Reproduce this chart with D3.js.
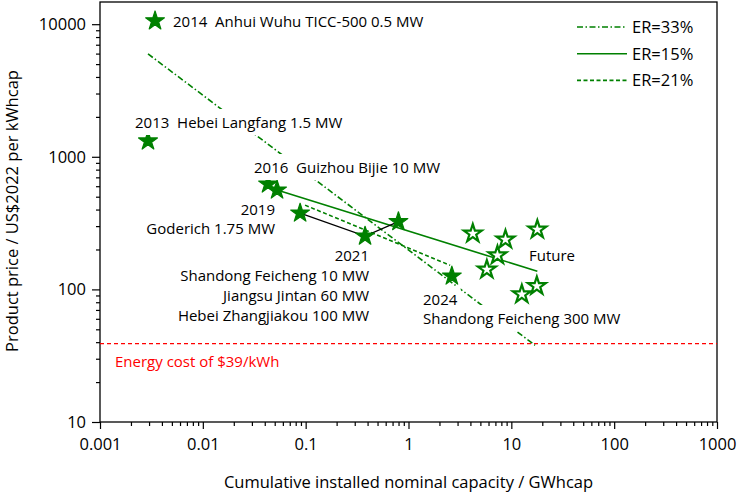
<!DOCTYPE html>
<html>
<head>
<meta charset="utf-8">
<script src="https://cdn.jsdelivr.net/npm/d3@7"></script>
<style>
  body { margin: 0; background: #fff; }
  text { font-family: "Open Sans", sans-serif; fill: #000; }
</style>
</head>
<body>
<svg id="chart" width="738" height="493"></svg>
<script>
const green = '#008000'
const red = '#ff0000'

// built projects (filled stars)
const projectYear = ['2014', '2013', '2016', '2016', '2019', '2021', '2021', '2024']
const projectCap = [0.00343, 0.00293, 0.0431, 0.0527, 0.0883, 0.378, 0.798, 2.64]
const projectPrice = [10590, 1315, 623, 561, 376, 252, 324, 126]

// future projects (hollow stars)
const futureCap = [4.22, 8.77, 17.9, 7.33, 5.78, 17.7, 12.65]
const futurePrice = [264, 238, 283, 181, 141, 106, 92]

// experience-rate trend lines, start and end points
const trendName = ['ER=33%', 'ER=15%', 'ER=21%']
const trendCap = [[0.00293, 17.0], [0.0527, 17.9], [0.0986, 2.54]]
const trendPrice = [[5970, 37.9], [561, 137], [432, 152]]
const trendDash = ['6,2.5,1.5,2.5', null, '4,2.5']

// black path 2019 -> 2021 -> 2021
const pathIdx = [4, 5, 6]

const energyCost = 39

const xTicks = [0.001, 0.01, 0.1, 1, 10, 100, 1000]
const yTicks = [10, 100, 1000, 10000]

const margin = {top: 2, right: 21, bottom: 71, left: 100}
const W = 738, H = 493
const w = W - margin.left - margin.right
const h = H - margin.top - margin.bottom

const svg = d3.select('#chart')
const g = svg.append('g').attr('transform', `translate(${margin.left},${margin.top})`)

const x = d3.scaleLog().domain([0.001, 1000]).range([0, w])
const y = d3.scaleLog().domain([10, 14700]).range([h, 0])

const minor = ticks => ticks.slice(0, -1).flatMap(t => d3.range(2, 10).map(k => t * k))

// axes
g.append('g')
  .attr('transform', `translate(0,${h})`)
  .call(d3.axisBottom(x).tickValues(minor(xTicks)).tickSize(4).tickFormat(''))
g.append('g')
  .attr('transform', `translate(0,${h})`)
  .call(d3.axisBottom(x).tickValues(xTicks).tickSize(7).tickPadding(9).tickFormat(d => String(d)))
g.append('g')
  .call(d3.axisLeft(y).tickValues(minor(yTicks)).tickSize(4).tickFormat(''))
g.append('g')
  .call(d3.axisLeft(y).tickValues(yTicks).tickSize(8).tickPadding(6).tickFormat(d => String(d)))

g.selectAll('.domain').remove()
g.selectAll('.tick line').attr('stroke', '#000').attr('stroke-width', 1.2)
g.selectAll('.tick text').style('font-size', '16.5px').style('font-family', '"Open Sans", sans-serif').attr('fill', '#000')

g.append('rect')
  .attr('width', w).attr('height', h)
  .attr('fill', 'none').attr('stroke', '#000').attr('stroke-width', 1.3)

// axis titles
svg.append('text')
  .attr('x', margin.left + w / 2).attr('y', 488)
  .attr('text-anchor', 'middle')
  .style('font-size', '16.5px')
  .text('Cumulative installed nominal capacity / GWhcap')
svg.append('text')
  .attr('transform', 'translate(18,211) rotate(-90)')
  .attr('text-anchor', 'middle')
  .style('font-size', '16.5px')
  .text('Product price / US$2022 per kWhcap')

// energy cost line
g.append('line')
  .attr('x1', 0).attr('x2', w)
  .attr('y1', y(energyCost)).attr('y2', y(energyCost))
  .attr('stroke', red).attr('stroke-width', 1.3).attr('stroke-dasharray', '4,3')
g.append('text')
  .attr('x', 15).attr('y', y(energyCost) + 23)
  .style('font-size', '15px').style('fill', red)
  .text('Energy cost of $39/kWh')

// trend lines
const line = d3.line().x(d => x(d[0])).y(d => y(d[1]))
trendName.forEach((name, i) => {
  g.append('path')
    .datum(d3.zip(trendCap[i], trendPrice[i]))
    .attr('d', line)
    .attr('fill', 'none')
    .attr('stroke', green)
    .attr('stroke-width', 1.6)
    .attr('stroke-dasharray', trendDash[i])
})

// annotations (white boxes hide the lines running behind them)
const notes = [
  {lines: ['2014  Anhui Wuhu TICC-500 0.5 MW'], x: 173, y: 27, anchor: 'start'},
  {lines: ['2013  Hebei Langfang 1.5 MW'], x: 135, y: 128, anchor: 'start', bg: true},
  {lines: ['2016  Guizhou Bijie 10 MW'], x: 254, y: 173, anchor: 'start', bg: true},
  {lines: ['2019', 'Goderich 1.75 MW'], x: 275, y: 215, anchor: 'end', lh: 19},
  {lines: ['2021', 'Shandong Feicheng 10 MW', 'Jiangsu Jintan 60 MW', 'Hebei Zhangjiakou 100 MW'], x: 369, y: 261, anchor: 'end', lh: 20},
  {lines: ['2024', 'Shandong Feicheng 300 MW'], x: 423, y: 305, anchor: 'start', lh: 19, bg: true},
  {lines: ['Future'], x: 529, y: 261, anchor: 'start'}
]
const noteLayer = svg.append('g')
notes.forEach(n => {
  n.lines.forEach((s, k) => {
    const t = noteLayer.append('text')
      .attr('x', n.x).attr('y', n.y + k * (n.lh || 0))
      .attr('text-anchor', n.anchor)
      .style('font-size', '15px')
      .style('white-space', 'pre')
      .text(s)
    if (n.bg) {
      const b = t.node().getBBox()
      noteLayer.insert('rect', () => t.node())
        .attr('x', b.x - 3).attr('y', b.y - 3)
        .attr('width', b.width + 6).attr('height', b.height + 6)
        .attr('fill', '#fff')
    }
  })
})

// black path
g.append('path')
  .datum(pathIdx.map(i => [projectCap[i], projectPrice[i]]))
  .attr('d', line)
  .attr('fill', 'none')
  .attr('stroke', '#000')
  .attr('stroke-width', 1.3)

// stars
const star = d3.symbol(d3.symbolStar, 110)
g.selectAll('.proj')
  .data(d3.zip(projectCap, projectPrice))
  .join('path')
  .attr('class', 'proj')
  .attr('transform', d => `translate(${x(d[0])},${y(d[1])})`)
  .attr('d', star)
  .attr('fill', green)
  .attr('stroke', green)
  .attr('stroke-width', 1.2)
  .attr('stroke-linejoin', 'round')

g.selectAll('.future')
  .data(d3.zip(futureCap, futurePrice))
  .join('path')
  .attr('class', 'future')
  .attr('transform', d => `translate(${x(d[0])},${y(d[1])})`)
  .attr('d', d3.symbol(d3.symbolStar, 100))
  .attr('fill', '#fff')
  .attr('stroke', green)
  .attr('stroke-width', 2.2)

// legend
const legend = svg.append('g').attr('transform', 'translate(577,27)')
trendName.forEach((name, i) => {
  const row = legend.append('g').attr('transform', `translate(0,${i * 26.7})`)
  row.append('line')
    .attr('x1', 0).attr('x2', 50)
    .attr('stroke', green).attr('stroke-width', 1.6)
    .attr('stroke-dasharray', trendDash[i])
  row.append('text')
    .attr('x', 55).attr('dy', '0.36em')
    .style('font-size', '16.5px')
    .text(name)
})
</script>
</body>
</html>
